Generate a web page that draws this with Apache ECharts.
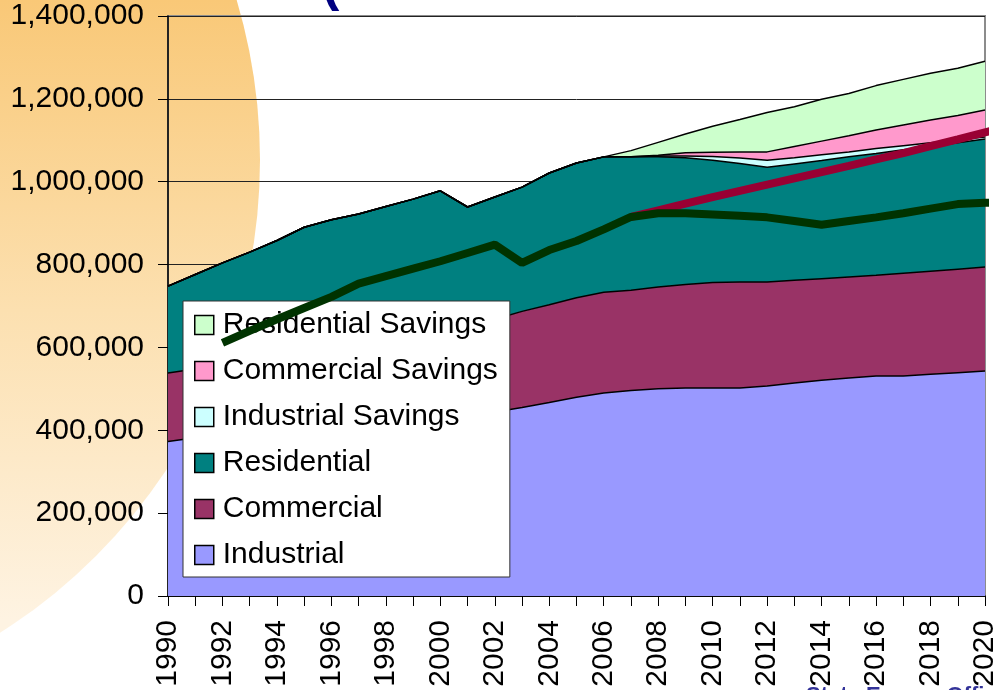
<!DOCTYPE html>
<html>
<head>
<meta charset="utf-8">
<script src="https://cdn.jsdelivr.net/npm/echarts@6/dist/echarts.min.js"></script>
<style>
  html, body { margin: 0; padding: 0; background: #fff; }
  #chart { width: 995px; height: 690px; }
</style>
</head>
<body>
<div id="chart"></div>
<script>
  // categories
  var years = ['1990', '1991', '1992', '1993', '1994', '1995', '1996', '1997', '1998', '1999',
    '2000', '2001', '2002', '2003', '2004', '2005', '2006', '2007', '2008', '2009',
    '2010', '2011', '2012', '2013', '2014', '2015', '2016', '2017', '2018', '2019', '2020']

  // stacked areas, bottom to top
  var industrial = [373000, 382000, 391000, 398000, 405000, 412000, 420000, 426000, 432000, 438000,
    442000, 440000, 444000, 455000, 467000, 480000, 490000, 496000, 500000, 502000,
    502000, 502000, 507000, 514000, 521000, 526000, 531000, 531000, 535000, 539000, 543000]
  var commercial = [165000, 166000, 167000, 170000, 175000, 180000, 184000, 190000, 196000, 202000,
    210000, 215000, 224000, 232000, 236000, 240000, 243000, 242000, 246000, 250000,
    255000, 256000, 251000, 248000, 245000, 244000, 243000, 248000, 249000, 250000, 251000]
  var residential = [210000, 228000, 246000, 262000, 278000, 298000, 304000, 306000, 312000, 318000,
    326000, 284000, 295000, 300000, 318000, 325000, 327000, 322000, 314000, 306000,
    295000, 286000, 277000, 281000, 285000, 290000, 294000, 298000, 301000, 305000, 309000]
  var industrialSavings = [0, 0, 0, 0, 0, 0, 0, 0, 0, 0,
    0, 0, 0, 0, 0, 0, 0, 0, 2000, 4000,
    9000, 13000, 17000, 15000, 14000, 12000, 12000, 10000, 9000, 7000, 5000]
  var commercialSavings = [0, 0, 0, 0, 0, 0, 0, 0, 0, 0,
    0, 0, 0, 0, 0, 0, 0, 0, 2000, 8000,
    10000, 15000, 20000, 27000, 33000, 39000, 45000, 50000, 55000, 59000, 65000]
  var residentialSavings = [0, 0, 0, 0, 0, 0, 0, 0, 0, 0,
    0, 0, 0, 0, 0, 0, 0, 15000, 31000, 45000,
    63000, 78000, 95000, 96000, 101000, 102000, 107000, 110000, 113000, 114000, 118000]

  // the two thick lines (run a little past 2020, off the plot)
  var greenYears = [1992, 1993, 1994, 1995, 1996, 1997, 1998, 1999, 2000, 2001, 2002, 2003, 2004, 2005,
    2006, 2007, 2008, 2009, 2010, 2011, 2012, 2013, 2014, 2015, 2016, 2017, 2018, 2019, 2020, 2021]
  var greenLine = [611000, 640000, 668000, 695000, 722000, 754000, 772000, 790000, 808000, 828000, 848000, 804000, 835000, 857000,
    885000, 915000, 924000, 924000, 921000, 918000, 914000, 905000, 896000, 905000, 914000, 924000, 935000, 946000, 949000, 952000]
  var redYears = [2007, 2008, 2009, 2010, 2011, 2012, 2013, 2014, 2015, 2016, 2017, 2018, 2019, 2020, 2021]
  var redLine = [915000, 931000, 947000, 963000, 978000, 993000, 1008000, 1023000, 1038000, 1054000,
    1069000, 1086000, 1102000, 1119000, 1136000]

  var legendNames = ['Residential Savings', 'Commercial Savings', 'Industrial Savings',
    'Residential', 'Commercial', 'Industrial']

  var font = 'Liberation Sans, Arial, sans-serif'

  function pairs(xs, ys) {
    return xs.map(function (x, i) { return [x, ys[i]] })
  }

  function area(name, data, color) {
    return {
      name: name,
      type: 'line',
      stack: 'total',
      data: data,
      symbol: 'none',
      itemStyle: { color: color, borderColor: '#000', borderWidth: 1 },
      lineStyle: { color: '#000', width: 1.5 },
      areaStyle: { color: color, opacity: 1 },
      z: 2
    }
  }

  function thickLine(xs, ys, color) {
    return {
      type: 'line',
      xAxisIndex: 1,
      data: pairs(xs, ys),
      symbol: 'none',
      clip: false,
      lineStyle: { color: color, width: 8 },
      z: 10,
      silent: true
    }
  }

  var chart = echarts.init(document.getElementById('chart'))
  chart.setOption({
    animation: false,
    backgroundColor: '#fff',
    textStyle: { fontFamily: font },
    graphic: [{
      type: 'circle',
      shape: { cx: -300, cy: 160, r: 560 },
      style: {
        fill: {
          type: 'linear', x: 0, y: 0, x2: 0, y2: 620, global: true,
          colorStops: [
            { offset: 0, color: '#F9C877' },
            { offset: 0.5, color: '#FCE0B0' },
            { offset: 1, color: '#FEF3E2' }
          ]
        }
      },
      z: -10,
      silent: true
    }, {
      type: 'text',
      left: 322, top: -40,
      style: { text: '(', fill: '#000080', font: 'bold 52px ' + font },
      z: -5
    }, {
      type: 'text',
      left: 806, top: 685,
      style: { text: 'State Energy Office', fill: '#333399', font: 'bold 22px ' + font },
      z: -5
    }],
    grid: {
      left: 168, right: 10, top: 16, bottom: 94,
      outerBoundsMode: 'none',
      containLabel: false,
      show: true,
      borderColor: '#8c8c8c',
      borderWidth: 2,
      backgroundColor: 'transparent'
    },
    legend: {
      data: legendNames,
      orient: 'vertical',
      left: 183,
      top: 301,
      icon: 'rect',
      itemWidth: 19,
      itemHeight: 19,
      itemGap: 16,
      padding: [9, 12, 7, 11],
      backgroundColor: '#fff',
      borderColor: '#333',
      borderWidth: 1,
      selectedMode: false,
      itemStyle: { borderColor: '#000', borderWidth: 1.5 },
      textStyle: { fontSize: 30, lineHeight: 30, color: '#000', fontFamily: font, padding: [0, 0, 0, 4] }
    },
    xAxis: [{
      type: 'category',
      data: years,
      boundaryGap: false,
      axisLine: { lineStyle: { color: '#000', width: 1.5 } },
      axisTick: { show: true, interval: 0, length: 10, lineStyle: { color: '#000' } },
      axisLabel: { interval: 1, rotate: 90, margin: 24, fontSize: 30, color: '#000', fontFamily: font, hideOverlap: false },
      splitLine: { show: false }
    }, {
      type: 'value',
      min: 1990,
      max: 2020,
      show: false
    }],
    yAxis: {
      type: 'value',
      min: 0,
      max: 1400000,
      interval: 200000,
      axisLine: { show: true, lineStyle: { color: '#000', width: 1.5 } },
      axisTick: { show: true, length: 10, lineStyle: { color: '#000' } },
      axisLabel: {
        margin: 24, fontSize: 30, color: '#000', fontFamily: font,
        formatter: function (v) { return v.toLocaleString('en-US') }
      },
      splitLine: { lineStyle: { color: '#222', width: 1 } }
    },
    series: [
      area('Industrial', industrial, '#9999FF'),
      area('Commercial', commercial, '#993366'),
      area('Residential', residential, '#008080'),
      area('Industrial Savings', industrialSavings, '#CCFFFF'),
      area('Commercial Savings', commercialSavings, '#FF99CC'),
      area('Residential Savings', residentialSavings, '#CCFFCC'),
      thickLine(redYears, redLine, '#990033'),
      thickLine(greenYears, greenLine, '#003300')
    ]
  })
</script>
</body>
</html>
